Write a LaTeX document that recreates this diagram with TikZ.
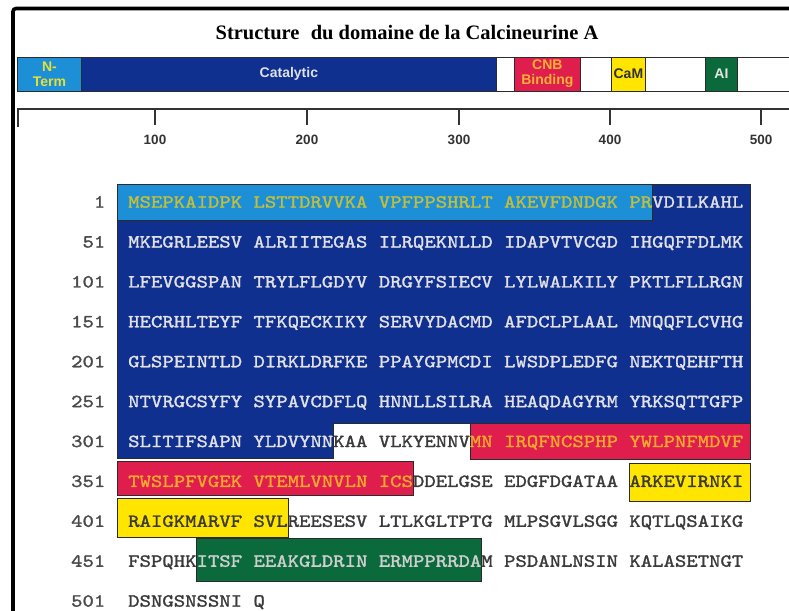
\documentclass[tikz,border=0pt]{standalone}
\usepackage{fontspec}
\setmainfont{Liberation Serif}
\newfontfamily\sansb{Liberation Sans}
\newfontfamily\seqfont{lmmono10-regular}[Extension=.otf, FakeStretch=1.173, FakeBold=1.5]

\definecolor{ntfill}{HTML}{1C8FD7}
\definecolor{catfill}{HTML}{10308F}
\definecolor{cnbfill}{HTML}{E01E4E}
\definecolor{camfill}{HTML}{FFE500}
\definecolor{aifill}{HTML}{0A6A3B}
\definecolor{boxline}{HTML}{2B2B2B}
\definecolor{nttxt}{HTML}{C4BE3A}
\definecolor{cattxt}{HTML}{E2E2E6}
\definecolor{cnbtxt}{HTML}{F4A92B}
\definecolor{pltxt}{HTML}{3A3A3A}
\definecolor{camtxt}{HTML}{3A3A3A}
\definecolor{aitxt}{HTML}{CFCFCF}
\definecolor{numtxt}{HTML}{4A4A4A}
\definecolor{bntxt}{HTML}{E8E030}
\definecolor{bcattxt}{HTML}{DDE0E8}
\definecolor{bcnbtxt}{HTML}{F6B233}
\definecolor{bcamtxt}{HTML}{333333}
\definecolor{baitxt}{HTML}{E4E4E4}
\definecolor{rulecol}{HTML}{333333}

\newcommand\sqNT[1]{\textcolor{nttxt}{#1}}
\newcommand\sqCA[1]{\textcolor{cattxt}{#1}}
\newcommand\sqPL[1]{\textcolor{pltxt}{#1}}
\newcommand\sqCN[1]{\textcolor{cnbtxt}{#1}}
\newcommand\sqCM[1]{\textcolor{camtxt}{#1}}
\newcommand\sqAI[1]{\textcolor{aitxt}{#1}}
% name, block index, row index, content
\newcommand\sqb[4]{\node[seqtxt] (#1) at ({128+125.29*#2},{207.65+39.9*#3}) {#4};}
\newcommand\sqn[3]{\node[numstyle] (#1) at (105.5,{207.65+39.9*#2}) {#3};}

\tikzset{
  seqtxt/.style={anchor=base west, inner sep=0pt, font=\seqfont\fontsize{18.5}{20}\selectfont},
  numstyle/.style={anchor=base east, inner sep=0pt, text=numtxt, font=\seqfont\fontsize{18.5}{20}\selectfont},
  seqbox/.style={draw=boxline, line width=0.8pt},
  barbox/.style={draw=boxline, line width=0.8pt, inner sep=0pt, minimum height=34pt, anchor=west,
    font=\sansb\bfseries\fontsize{14}{15}\selectfont, align=center},
  ruler/.style={draw=rulecol, line width=1.8pt},
  rulertxt/.style={font=\sansb\bfseries\fontsize{13.5}{15}\selectfont, text=rulecol, inner sep=0pt},
  titletxt/.style={font=\bfseries\fontsize{20.5}{24}\selectfont, inner sep=0pt}
}

\begin{document}
\begin{tikzpicture}[x=1pt,y=-1pt]
\useasboundingbox (0,0) rectangle (789,610);
\fill[white] (0,0) rectangle (789,610);
\clip (0,0) rectangle (789,610);

% frame
\draw[line width=3.6pt, rounded corners=3pt, black] (13,640) -- (13,8.5) -- (820,8.5);

% title
\node[titletxt] (title) at (407,33) {Structure\hspace{0.55em}du domaine de la Calcineurine A};

% domain bar
\node[barbox, fill=ntfill, text=bntxt, minimum width=64pt] (bNT) at (17,74) {N-\\Term};
\node[barbox, fill=catfill, text=bcattxt, minimum width=415pt] (bCat) at (81,74) {Catalytic};
\node[barbox, fill=white, minimum width=18pt] (bW1) at (496,74) {};
\node[barbox, fill=cnbfill, text=bcnbtxt, minimum width=66pt] (bCNB) at (514,74) {CNB\\Binding};
\node[barbox, fill=white, minimum width=31pt] (bW2) at (580,74) {};
\node[barbox, fill=camfill, text=bcamtxt, minimum width=34pt] (bCaM) at (611,74) {CaM};
\node[barbox, fill=white, minimum width=60pt] (bW3) at (645,74) {};
\node[barbox, fill=aifill, text=baitxt, minimum width=32pt] (bAI) at (705,74) {AI};
\node[barbox, fill=white, minimum width=70pt] (bW4) at (737,74) {};

% ruler
\draw[ruler] (18,127) -- (18,109) -- (800,109);
\foreach \x/\l in {155/100,307/200,459/300,610/400,761/500}{
  \draw[ruler] (\x,109) -- (\x,125);
  \node[rulertxt] (t\l) at (\x,140) {\l};
}

% sequence boxes
\draw[seqbox, fill=catfill] (117,184) -- (750,184) -- (750,423) -- (333,423) -- (333,458) -- (117,458) -- cycle;
\draw[seqbox, fill=ntfill] (117,184) rectangle (652,220);
\draw[seqbox, fill=cnbfill] (470,423) rectangle (750,459);
\draw[seqbox, fill=cnbfill] (117,461) rectangle (413,495);
\draw[seqbox, fill=camfill] (629,463) rectangle (750,501);
\draw[seqbox, fill=camfill] (117,498) rectangle (288,537);
\draw[seqbox, fill=aifill] (196,538) rectangle (481,581);

% row numbers
\sqn{n1}{0}{1}
\sqn{n51}{1}{51}
\sqn{n101}{2}{101}
\sqn{n151}{3}{151}
\sqn{n201}{4}{201}
\sqn{n251}{5}{251}
\sqn{n301}{6}{301}
\sqn{n351}{7}{351}
\sqn{n401}{8}{401}
\sqn{n451}{9}{451}
\sqn{n501}{10}{501}

% row 1
\sqb{s0a}{0}{0}{\sqNT{MSEPKAIDPK}}
\sqb{s0b}{1}{0}{\sqNT{LSTTDRVVKA}}
\sqb{s0c}{2}{0}{\sqNT{VPFPPSHRLT}}
\sqb{s0d}{3}{0}{\sqNT{AKEVFDNDGK}}
\sqb{s0e}{4}{0}{\sqNT{PR}\sqCA{VDILKAHL}}
% row 51
\sqb{s1a}{0}{1}{\sqCA{MKEGRLEESV}}
\sqb{s1b}{1}{1}{\sqCA{ALRIITEGAS}}
\sqb{s1c}{2}{1}{\sqCA{ILRQEKNLLD}}
\sqb{s1d}{3}{1}{\sqCA{IDAPVTVCGD}}
\sqb{s1e}{4}{1}{\sqCA{IHGQFFDLMK}}
% row 101
\sqb{s2a}{0}{2}{\sqCA{LFEVGGSPAN}}
\sqb{s2b}{1}{2}{\sqCA{TRYLFLGDYV}}
\sqb{s2c}{2}{2}{\sqCA{DRGYFSIECV}}
\sqb{s2d}{3}{2}{\sqCA{LYLWALKILY}}
\sqb{s2e}{4}{2}{\sqCA{PKTLFLLRGN}}
% row 151
\sqb{s3a}{0}{3}{\sqCA{HECRHLTEYF}}
\sqb{s3b}{1}{3}{\sqCA{TFKQECKIKY}}
\sqb{s3c}{2}{3}{\sqCA{SERVYDACMD}}
\sqb{s3d}{3}{3}{\sqCA{AFDCLPLAAL}}
\sqb{s3e}{4}{3}{\sqCA{MNQQFLCVHG}}
% row 201
\sqb{s4a}{0}{4}{\sqCA{GLSPEINTLD}}
\sqb{s4b}{1}{4}{\sqCA{DIRKLDRFKE}}
\sqb{s4c}{2}{4}{\sqCA{PPAYGPMCDI}}
\sqb{s4d}{3}{4}{\sqCA{LWSDPLEDFG}}
\sqb{s4e}{4}{4}{\sqCA{NEKTQEHFTH}}
% row 251
\sqb{s5a}{0}{5}{\sqCA{NTVRGCSYFY}}
\sqb{s5b}{1}{5}{\sqCA{SYPAVCDFLQ}}
\sqb{s5c}{2}{5}{\sqCA{HNNLLSILRA}}
\sqb{s5d}{3}{5}{\sqCA{HEAQDAGYRM}}
\sqb{s5e}{4}{5}{\sqCA{YRKSQTTGFP}}
% row 301
\sqb{s6a}{0}{6}{\sqCA{SLITIFSAPN}}
\sqb{s6b}{1}{6}{\sqCA{YLDVYNN}\sqPL{KAA}}
\sqb{s6c}{2}{6}{\sqPL{VLKYENNV}\sqCN{MN}}
\sqb{s6d}{3}{6}{\sqCN{IRQFNCSPHP}}
\sqb{s6e}{4}{6}{\sqCN{YWLPNFMDVF}}
% row 351
\sqb{s7a}{0}{7}{\sqCN{TWSLPFVGEK}}
\sqb{s7b}{1}{7}{\sqCN{VTEMLVNVLN}}
\sqb{s7c}{2}{7}{\sqCN{ICS}\sqPL{DDELGSE}}
\sqb{s7d}{3}{7}{\sqPL{EDGFDGATAA}}
\sqb{s7e}{4}{7}{\sqCM{ARKEVIRNKI}}
% row 401
\sqb{s8a}{0}{8}{\sqCM{RAIGKMARVF}}
\sqb{s8b}{1}{8}{\sqCM{SVL}\sqPL{REESESV}}
\sqb{s8c}{2}{8}{\sqPL{LTLKGLTPTG}}
\sqb{s8d}{3}{8}{\sqPL{MLPSGVLSGG}}
\sqb{s8e}{4}{8}{\sqPL{KQTLQSAIKG}}
% row 451
\sqb{s9a}{0}{9}{\sqPL{FSPQHK}\sqAI{ITSF}}
\sqb{s9b}{1}{9}{\sqAI{EEAKGLDRIN}}
\sqb{s9c}{2}{9}{\sqAI{ERMPPRRDA}\sqPL{M}}
\sqb{s9d}{3}{9}{\sqPL{PSDANLNSIN}}
\sqb{s9e}{4}{9}{\sqPL{KALASETNGT}}
% row 501
\sqb{s10a}{0}{10}{\sqPL{DSNGSNSSNI}}
\sqb{s10b}{1}{10}{\sqPL{Q}}
\end{tikzpicture}
\end{document}
